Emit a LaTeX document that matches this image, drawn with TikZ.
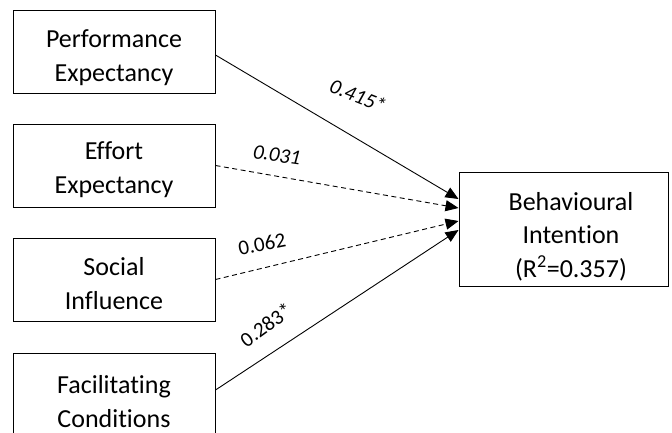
\documentclass[tikz,border=0pt]{standalone}
\usepackage{fontspec}
\setmainfont{Carlito}[Ligatures=NoCommon]
\usetikzlibrary{arrows.meta}
\begin{document}
\begin{tikzpicture}[
    x=1pt, y=-1pt,
    box/.style={rectangle, draw, line width=1pt, minimum width=202pt, minimum height=83pt},
    txt/.style={align=center, font=\fontsize{26}{33.5}\selectfont},
    coef/.style={font=\fontsize{21}{25}\selectfont},
    link/.style={line width=0.9pt, -{Triangle[length=13pt,width=11pt]}},
    weak/.style={link, dash pattern=on 5pt off 3.5pt}
]
\useasboundingbox (0,0) rectangle (672,432);
\clip (0,0) rectangle (672,432);

% Costrutti
\node[box] (pe) at (114,51.7) {};
\node[txt, anchor=base] (pet) at (114,81) {Performance\\Expectancy};

\node[box] (ee) at (114,165.5) {};
\node[txt, anchor=base] (eet) at (114,193) {Effort\\Expectancy};

\node[box] (si) at (114,279.5) {};
\node[txt, anchor=base] (sit) at (114,309) {Social\\Influence};

\node[box, minimum height=100pt] (fc) at (114,403) {};
\node[txt, anchor=base] (fct) at (114,427) {Facilitating\\Conditions};

\node[box, minimum width=209pt, minimum height=114pt] (bi) at (563.5,229.7) {};
\node[txt, anchor=base] (bit) at (571,277) {Behavioural\\Intention\\(R\textsuperscript{2}=0.357)};

% Frecce
\draw[link] ([yshift=-3.3pt]pe.east) -- ([yshift=30.7pt]bi.west);
\draw[weak] (ee.east) -- ([yshift=21.7pt]bi.west);
\draw[weak] (si.east) -- ([yshift=8.7pt]bi.west);
\draw[link] ([yshift=13pt]fc.east) -- ([yshift=-0.3pt]bi.west);

% Coefficienti
\node[coef, font=\fontsize{21}{25}\selectfont\itshape, rotate=-22] (c1) at (358,96) {0.415*};
\node[coef, font=\fontsize{21}{25}\selectfont\itshape, rotate=-8] (c2) at (277,155) {0.031};
\node[coef, rotate=11] (c3) at (262,244) {0.062};
\node[coef, rotate=36] (c4) at (266,325) {0.283*};
\end{tikzpicture}
\end{document}
